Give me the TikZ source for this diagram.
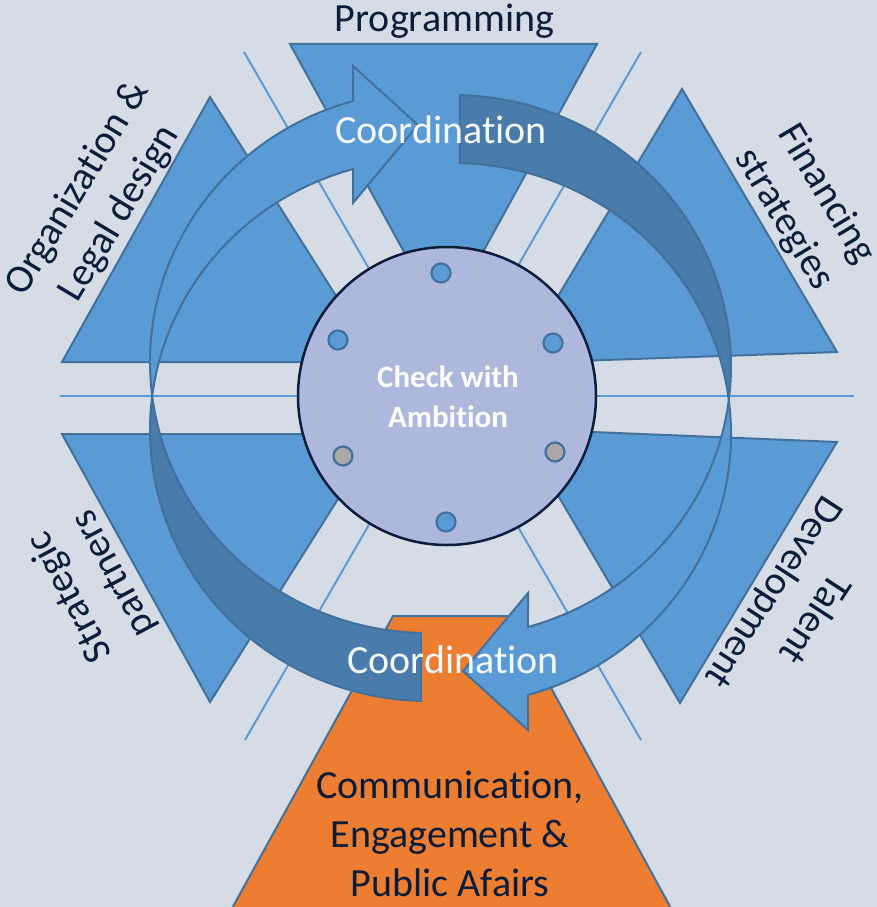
\documentclass[tikz,border=0pt]{standalone}
\usepackage{fontspec}
\setmainfont{Carlito}[Ligatures={NoCommon}]
\usetikzlibrary{calc}

\definecolor{bgcol}{HTML}{D6DCE5}
\definecolor{tricol}{HTML}{5B9BD5}
\definecolor{edgecol}{HTML}{41719C}
\definecolor{backcol}{HTML}{497CAA}
\definecolor{hubcol}{HTML}{ADB8DC}
\definecolor{navy}{HTML}{0C1D3B}
\definecolor{orangecol}{HTML}{ED7D31}
\definecolor{dotgrey}{HTML}{ABA7A4}

\tikzset{
	sector/.style={fill=tricol, draw=edgecol, line width=2pt},
	front/.style={fill=tricol, draw=edgecol, line width=2pt},
	back/.style={fill=backcol, draw=edgecol, line width=2pt},
	spoke/.style={draw=tricol, line width=2pt},
	pin/.style={circle, draw=edgecol, line width=2.2pt, inner sep=0pt, minimum size=19pt},
	lbl/.style={text=navy, font=\fontsize{40}{49}\selectfont, align=center, inner sep=0pt},
	coordlbl/.style={text=white!94!tricol, font=\fontsize{40}{48}\selectfont, inner sep=0pt}
}

% one curved arrow: darker back half, lighter front half with head
\def\coordarrow{
	\draw[back] ({428+278*cos(187.2)},{430+271*sin(187.2)}) arc[start angle=187.2, end angle=91.44, x radius=278, y radius=271]
		-- ({428+278*cos(91.44)},{362+271*sin(91.44)}) arc[start angle=91.44, end angle=172.8, x radius=278, y radius=271] -- cycle;
	\draw[front] ({428+278*cos(172.8)},{362+271*sin(172.8)}) arc[start angle=172.8, end angle=254.35, x radius=278, y radius=271]
		-- (353,66) -- (418,125) -- (353,203)
		-- ({428+278*cos(254.35)},{430+271*sin(254.35)}) arc[start angle=254.35, end angle=187.2, x radius=278, y radius=271] -- cycle;
}

\begin{document}
\begin{tikzpicture}[x=1pt, y=-1pt]
			%%%%% START %%%%%
			\useasboundingbox (0,0) rectangle (877,907);
			\clip (0,0) rectangle (877,907);
			\fill[bgcol] (0,0) rectangle (877,907);
			
			\draw[spoke] (60,396) -- (854,396);
			\draw[spoke] (244,52) -- (641,740);
			\draw[spoke] (641,52) -- (245,740);
			
			\draw[sector] (290,44) -- (597,44) -- (443.5,324) -- cycle;
			\draw[sector] (210,97) -- (378,362) -- (62,362) -- cycle;
			\draw[sector] (682,89) -- (837,352) -- (518,363) -- cycle;
			\draw[sector] (62,434) -- (379,434) -- (210,702) -- cycle;
			\draw[sector] (837,442) -- (680,703) -- (519,429) -- cycle;
			\draw[sector, fill=orangecol] (393,616) -- (512,616) -- (673,912) -- (230,912) -- cycle;
			
			\coordarrow
			\begin{scope}[rotate around={180:(440.5,398)}]
				\coordarrow
			\end{scope}
			
			\node[circle, draw=navy, fill=hubcol, line width=2.5pt, minimum size=298pt, inner sep=0pt] (hub) at (447,396) {};
			\node[text=white, font=\bfseries\fontsize{31}{40}\selectfont, align=center, inner sep=0pt] (ambition) at (448,397) {Check with\\Ambition};
			
			\node[pin, fill=tricol] (pintop) at (441,273) {};
			\node[pin, fill=tricol] (pinnw) at (338,340) {};
			\node[pin, fill=tricol] (pinne) at (553,343) {};
			\node[pin, fill=dotgrey] (pinsw) at (343,456) {};
			\node[pin, fill=dotgrey] (pinse) at (555,452) {};
			\node[pin, fill=tricol] (pinbot) at (446,522) {};
			
			\node[coordlbl, anchor=base] (coordtop) at (441,143) {Coordination};
			\node[coordlbl, anchor=base] (coordbot) at (453,673) {Coordination};
			
			\node[lbl, anchor=base] (prog) at (444.5,32) {Programming};
			\node[lbl, rotate=59] (orga) at (99,201) {Organization \&\\Legal design};
			\node[lbl, rotate=-59] (fin) at (805,207) {Financing\\strategies};
			\node[lbl, rotate=118] (strat) at (92,585) {Strategic\\partners};
			\node[lbl, rotate=-123] (talent) at (793,605) {Talent\\Development};
			\node[lbl] (comm) at (450,834) {Communication,\\Engagement \&\\Public Afairs};
			%%%%% END %%%%%
\end{tikzpicture}
\end{document}
